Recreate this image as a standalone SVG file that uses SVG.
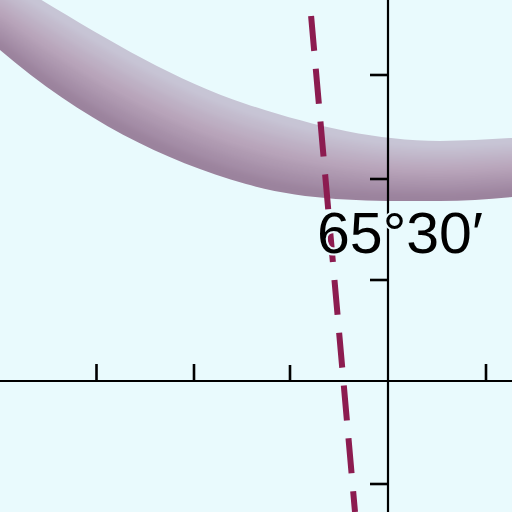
<svg xmlns="http://www.w3.org/2000/svg" width="512" height="512" viewBox="0 0 512 512">
<style>
.ax{stroke:#000;stroke-width:2.2;fill:none}
.tk{stroke:#000;stroke-width:2.6;fill:none}
.lbl{font-family:"Liberation Sans",Arial,sans-serif;font-size:58px;fill:#000;stroke:#e9fafd;stroke-width:4;paint-order:stroke}
</style>
<defs>
<clipPath id="bandClip">
<path d="M -20,-40 L 0,-25 C 82,24 164,77 246,104 C 311,125.5 375,141 440,141 C 464,141 488,139.2 512,138 L 530,138 L 530,197 L 512,197 C 488,199 464,201 440,201 C 375,201 311,202.2 246,184 C 164,161 82,120 0,50 L -20,35 Z"/>
</clipPath>
<filter id="soft" x="-10%" y="-10%" width="120%" height="120%"><feGaussianBlur stdDeviation="3"/></filter>
</defs>
<rect width="512" height="512" fill="#e9fafd"/>
<g id="band" clip-path="url(#bandClip)">
<g filter="url(#soft)">
<path fill="#9b839d" d="M -20,-47.5 L 0,-47.5 C 82,-4.8 164,51.8 246,80 C 311,102.5 375,123 440,123 C 464,123 488,121.26 512,120.3 L 530,120.3 L 530,214.7 L 512,214.7 C 488,216.94 464,219 440,219 C 375,219 311,225.2 246,208 C 164,186.2 82,148.8 0,72.5 L -20,72.5 Z"/>
<path fill="#a58ea7" d="M -20,-47.5 L 0,-47.5 C 82,-4.8 164,51.8 246,80 C 311,102.5 375,123 440,123 C 464,123 488,121.26 512,120.3 L 530,120.3 L 530,188.6 L 512,188.6 C 488,190.5 464,192.4 440,192.4 C 375,192.4 311,191.2 246,172.6 C 164,149 82,106.3 0,39.3 L -20,39.3 Z"/>
<path fill="#ae99b0" d="M -20,-47.5 L 0,-47.5 C 82,-4.8 164,51.8 246,80 C 311,102.5 375,123 440,123 C 464,123 488,121.26 512,120.3 L 530,120.3 L 530,180.1 L 512,180.1 C 488,181.9 464,183.9 440,183.9 C 375,183.9 311,180.3 246,161.1 C 164,137 82,92.6 0,28.6 L -20,28.6 Z"/>
<path fill="#b8a4ba" d="M -20,-47.5 L 0,-47.5 C 82,-4.8 164,51.8 246,80 C 311,102.5 375,123 440,123 C 464,123 488,121.26 512,120.3 L 530,120.3 L 530,171.7 L 512,171.7 C 488,173.4 464,175.3 440,175.3 C 375,175.3 311,169.3 246,149.7 C 164,125 82,78.9 0,17.9 L -20,17.9 Z"/>
<path fill="#bdafc3" d="M -20,-47.5 L 0,-47.5 C 82,-4.8 164,51.8 246,80 C 311,102.5 375,123 440,123 C 464,123 488,121.26 512,120.3 L 530,120.3 L 530,163.3 L 512,163.3 C 488,164.8 464,166.7 440,166.7 C 375,166.7 311,158.4 246,138.3 C 164,113 82,65.1 0,7.1 L -20,7.1 Z"/>
<path fill="#c2bacc" d="M -20,-47.5 L 0,-47.5 C 82,-4.8 164,51.8 246,80 C 311,102.5 375,123 440,123 C 464,123 488,121.26 512,120.3 L 530,120.3 L 530,154.9 L 512,154.9 C 488,156.3 464,158.1 440,158.1 C 375,158.1 311,147.4 246,126.9 C 164,101 82,51.4 0,-3.6 L -20,-3.6 Z"/>
<path fill="#c7c5d5" d="M -20,-47.5 L 0,-47.5 C 82,-4.8 164,51.8 246,80 C 311,102.5 375,123 440,123 C 464,123 488,121.26 512,120.3 L 530,120.3 L 530,146.4 L 512,146.4 C 488,147.7 464,149.6 440,149.6 C 375,149.6 311,136.5 246,115.4 C 164,89 82,37.7 0,-14.3 L -20,-14.3 Z"/>
</g>
</g>
<g id="axes">
<line class="ax" x1="0" y1="381" x2="512" y2="381"/>
<line class="ax" x1="388" y1="0" x2="388" y2="512"/>
<line class="tk" x1="96.5" y1="364" x2="96.5" y2="381"/>
<line class="tk" x1="194" y1="364" x2="194" y2="381"/>
<line class="tk" x1="290" y1="365" x2="290" y2="381"/>
<line class="tk" x1="486" y1="364" x2="486" y2="381"/>
<line class="tk" x1="370" y1="75" x2="388" y2="75"/>
<line class="tk" x1="370" y1="179" x2="388" y2="179"/>
<line class="tk" x1="370" y1="280" x2="388" y2="280"/>
<line class="tk" x1="370" y1="484" x2="388" y2="484"/>
</g>
<g id="connectors">
<line x1="311.1" y1="16" x2="355" y2="512" stroke="#8c1c50" stroke-width="6" stroke-dasharray="35 18"/>
</g>
<g id="label">
<text class="lbl" x="317" y="253" textLength="166" lengthAdjust="spacingAndGlyphs">65°30′</text>
</g>
</svg>
